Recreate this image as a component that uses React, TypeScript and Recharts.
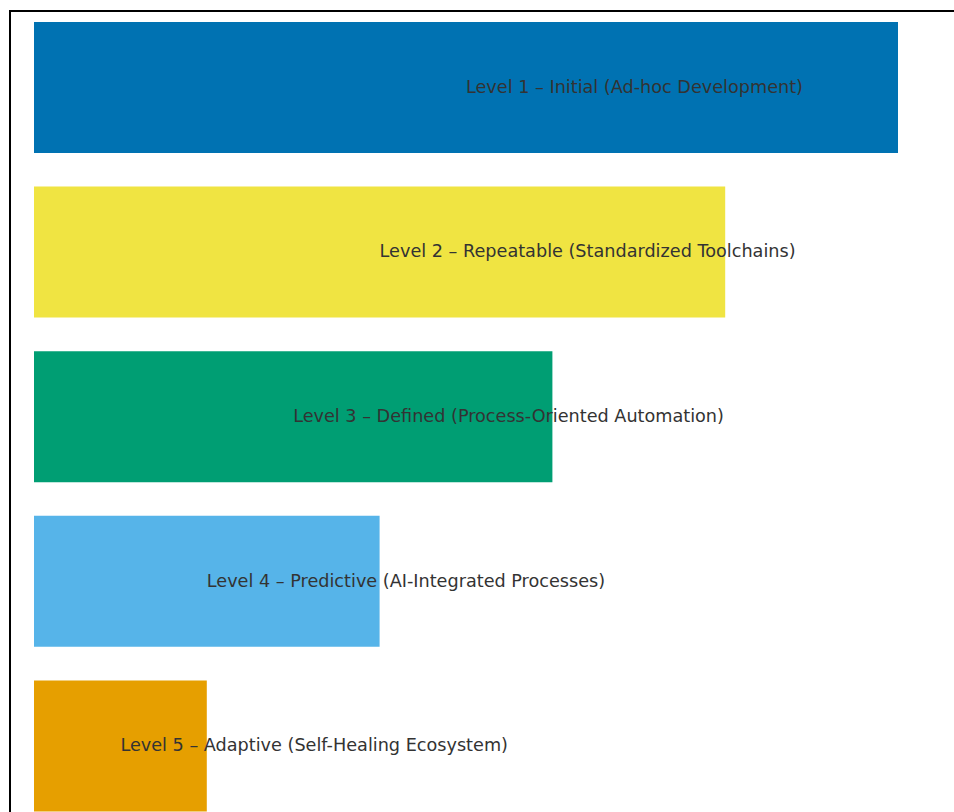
import { Bar, BarChart, Cell, LabelList, XAxis, YAxis } from 'recharts';

const levels = [
  'Level 1 – Initial (Ad-hoc Development)',
  'Level 2 – Repeatable (Standardized Toolchains)',
  'Level 3 – Defined (Process-Oriented Automation)',
  'Level 4 – Predictive (AI-Integrated Processes)',
  'Level 5 – Adaptive (Self-Healing Ecosystem)',
];
const widths = [5, 4, 3, 2, 1];
const colors = ['#0072B2', '#F0E442', '#009E73', '#56B4E9', '#E69F00'];

const data = levels.map((name, i) => ({ name, value: widths[i] }));

// text starts at the middle of its bar, like ha="left" in the original
const renderLabel = (props: any) => {
  const { x, y, width, height, value } = props;
  return (
    <text
      x={Number(x) + Number(width) / 2}
      y={Number(y) + Number(height) / 2}
      dy="0.3em"
      textAnchor="start"
      fill="#333333"
      fontSize={17.65}
      fontFamily="DejaVu Sans, sans-serif"
    >
      {value}
    </text>
  );
};

export default function App() {
  return (
    <div style={{ position: 'fixed', left: 0, top: 0, width: 954, height: 812, overflow: 'hidden', background: '#fff' }}>
      <div
        style={{
          position: 'absolute',
          left: 9,
          top: 10,
          width: 1000,
          height: 900,
          border: '2px solid #000',
          boxSizing: 'border-box',
        }}
      />
      <div style={{ position: 'absolute', left: 0, top: 0 }}>
        <BarChart
          width={954}
          height={828}
          data={data}
          layout="vertical"
          margin={{ top: 5, right: 56, bottom: 0, left: 34 }}
        >
          <XAxis type="number" domain={[0, 5]} hide />
          <YAxis type="category" dataKey="name" hide />
          <Bar dataKey="value" barSize={131} isAnimationActive={false}>
            {data.map((_entry, index) => (
              <Cell key={`cell-${index}`} fill={colors[index]} />
            ))}
            <LabelList dataKey="name" content={renderLabel} />
          </Bar>
        </BarChart>
      </div>
    </div>
  );
}
